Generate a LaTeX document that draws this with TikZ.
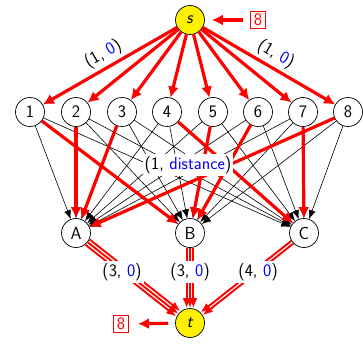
\documentclass[tikz,border=0pt]{standalone}
\usepackage{fontspec}
\usetikzlibrary{arrows.meta}
\begin{document}
\begin{tikzpicture}[x=1pt,y=-1pt,
  font=\sffamily\fontsize{17.5}{20}\selectfont,
  vtx/.style={circle,draw=black,line width=0.7pt,minimum size=29pt,inner sep=0pt,fill=white},
  st/.style={vtx,fill=yellow},
  boxe/.style={draw=red,text=red,line width=0.7pt,inner xsep=3.5pt,inner ysep=2.5pt},
  blk/.style={draw=black,line width=0.6pt,-{Latex[length=9pt,width=7pt]}},
  flow/.style={draw=red,line width=3.2pt,-{Latex[length=11pt,width=11pt]}},
  multi/.style={draw=red,line width=1.9pt,-{Latex[length=10pt,width=8pt]}},
  lab/.style={fill=white,inner sep=2pt,text=black}]
\useasboundingbox (0,0) rectangle (363,344);
% nodes
\node[st] (s) at (190,20) {\textit{s}};
\foreach \i/\x in {1/30,2/76,3/122,4/167,5/213,6/258,7/303,8/348}
  \node[vtx] (n\i) at (\x,112) {\i};
\node[vtx] (A) at (76,233) {A};
\node[vtx] (B) at (190,233) {B};
\node[vtx] (C) at (304,233) {C};
\node[st] (t) at (190,323) {\textit{t}};
\node[boxe] (b1) at (258,20) {8};
\node[boxe] (b2) at (121,324) {8};
% black edges
\foreach \i in {1,...,8}
  \foreach \j in {A,B,C}
    \draw[blk] (n\i) -- (\j);
% source edges
\draw[flow] (s) -- node[sloped,above,text=black,pos=0.5] {(1, \textcolor{blue}{0})} (n1);
\foreach \i in {2,...,7}
  \draw[flow] (s) -- (n\i);
\draw[flow] (s) -- node[sloped,above,text=black,pos=0.5] {(1, \textcolor{blue}{0})} (n8);
% flow edges middle
\draw[flow] (n1) -- (B);
\draw[flow] (n2) -- (A);
\draw[flow] (n3) -- (A);
\draw[flow] (n4) -- (C);
\draw[flow] (n5) -- (B);
\draw[flow] (n6) -- (B);
\draw[flow] (n7) -- (C);
\draw[flow] (n8) -- (A);
% sink edges
\foreach \d in {-1,0,1}{
  \draw[multi,transform canvas={shift={(2.11*\d,-2.67*\d)}}] (A) -- (t);
  \draw[multi,transform canvas={shift={(3.4*\d,0)}}] (B) -- (t);
}
\foreach \d in {-1,1}
  \draw[multi,transform canvas={shift={(1.05*\d,1.33*\d)}}] (C) -- (t);
% box arrows
\draw[flow,shorten <=7pt,shorten >=7pt] (b1) -- (s);
\draw[flow,shorten <=7pt,shorten >=9pt] (t) -- (b2);
% labels
\node[lab] (lm) at (188,165) {(1, \textcolor{blue}{distance})};
\node[lab] (la) at (122,272) {(3, \textcolor{blue}{0})};
\node[lab] (lb) at (190,272) {(3, \textcolor{blue}{0})};
\node[lab] (lc) at (258,272) {(4, \textcolor{blue}{0})};
\end{tikzpicture}
\end{document}
